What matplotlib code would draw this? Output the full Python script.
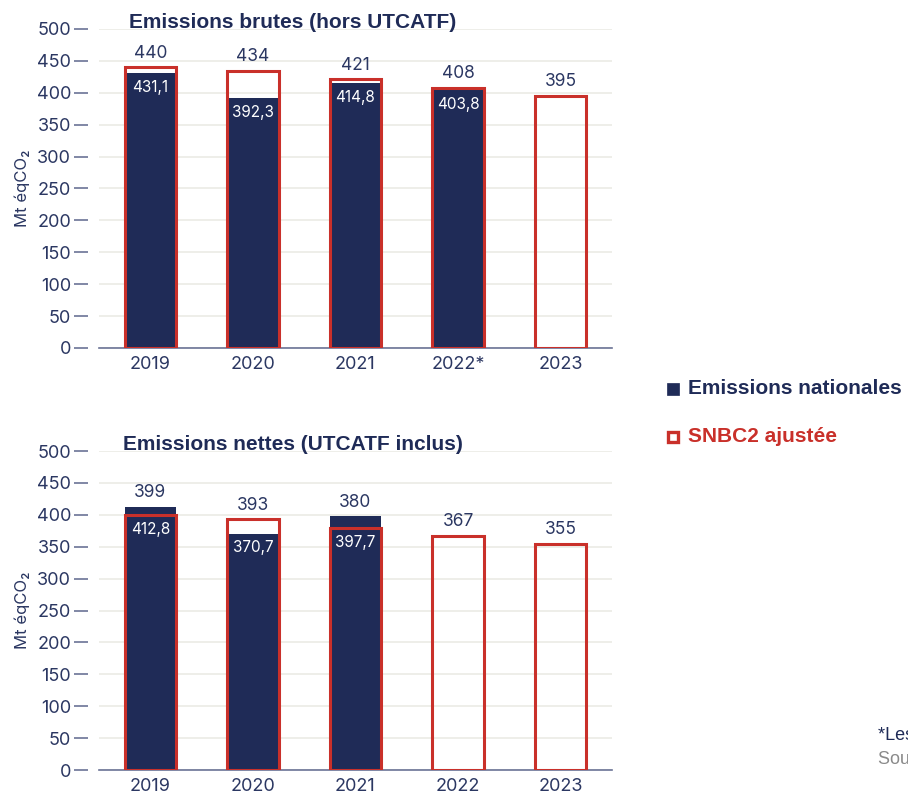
import matplotlib.pyplot as plt
import numpy as np

# Données (Mt éqCO2)
annees_brutes = ['2019', '2020', '2021', '2022*', '2023']
nationales_brutes = [431.1, 392.3, 414.8, 403.8, None]
snbc_brutes = [440, 434, 421, 408, 395]

annees_nettes = ['2019', '2020', '2021', '2022', '2023']
nationales_nettes = [412.8, 370.7, 397.7, None, None]
snbc_nettes = [399, 393, 380, 367, 355]

NAVY = '#1f2b57'
RED = '#c9302a'
TEXTE = '#2b3762'
GRILLE = '#ebebe5'

plt.rcParams['font.family'] = ['Inter', 'DejaVu Sans']


def fmt(v):
    return f"{v:.1f}".replace('.', ',')


def tracer(ax, annees, nationales, snbc, titre):
    x = np.arange(len(annees))
    largeur = 0.5
    for i, v in enumerate(nationales):
        if v is not None:
            ax.bar(x[i], v, width=largeur, color=NAVY, edgecolor='none', zorder=2)
    ax.bar(x, snbc, width=largeur, facecolor='none', edgecolor=RED,
           linewidth=2.2, zorder=3)

    for i, s in enumerate(snbc):
        v = nationales[i]
        haut = s if v is None else max(s, v)
        ax.annotate(str(s), (x[i], haut), xytext=(0, 4), textcoords='offset points',
                    ha='center', va='bottom', fontsize=12.5, color=TEXTE)
        if v is not None:
            bas = min(s, v)
            ax.annotate(fmt(v), (x[i], bas), xytext=(0, -5), textcoords='offset points',
                        ha='center', va='top', fontsize=11, color='white', zorder=4)

    ax.set_xlim(-0.5, 4.5)
    ax.set_ylim(0, 500)
    ax.set_yticks(range(0, 501, 50))
    ax.set_xticks(x)
    ax.set_xticklabels(annees)
    ax.yaxis.grid(True, color=GRILLE, linewidth=1.2, zorder=0)
    ax.set_axisbelow(True)
    for c in ['top', 'right', 'left']:
        ax.spines[c].set_visible(False)
    ax.spines['left'].set_position(('outward', 8))
    ax.spines['bottom'].set_color('#6b7396')
    ax.spines['bottom'].set_linewidth(1.2)
    ax.spines['bottom'].set_zorder(1)
    ax.tick_params(axis='y', length=10, width=1.2, color='#6b7396', pad=2,
                   labelsize=13, labelcolor=TEXTE)
    ax.tick_params(axis='x', length=0, pad=6, labelsize=13, labelcolor=TEXTE)
    ax.set_ylabel('Mt éqCO₂', fontsize=12, color=TEXTE, labelpad=5)
    ax.set_title(titre, fontsize=15, fontweight='bold', color=NAVY,
                 family=['Liberation Sans', 'DejaVu Sans'], x=0.378, y=1.0, pad=1)


fig = plt.figure(figsize=(9.08, 7.95), dpi=100)
ax1 = fig.add_axes([0.109, 0.5623, 0.565, 0.4013])
ax2 = fig.add_axes([0.109, 0.0314, 0.565, 0.4013])

tracer(ax1, annees_brutes, nationales_brutes, snbc_brutes, 'Emissions brutes (hors UTCATF)')
tracer(ax2, annees_nettes, nationales_nettes, snbc_nettes, 'Emissions nettes (UTCATF inclus)')

# Légende
police_leg = ['Liberation Sans', 'DejaVu Sans']
fig.patches.append(plt.Rectangle((667 / 908, 1 - 395 / 795), 12 / 908, 12 / 795,
                                 transform=fig.transFigure, facecolor=NAVY,
                                 edgecolor=NAVY, linewidth=0.5))
fig.text(688 / 908, 1 - 389 / 795, 'Emissions nationales', fontsize=15, fontweight='bold',
         color=NAVY, va='center', family=police_leg)
fig.patches.append(plt.Rectangle((668 / 908, 1 - 442 / 795), 10 / 908, 10 / 795,
                                 transform=fig.transFigure, facecolor='white',
                                 edgecolor=RED, linewidth=2.4))
fig.text(688 / 908, 1 - 437 / 795, 'SNBC2 ajustée', fontsize=15, fontweight='bold',
         color=RED, va='center', family=police_leg)

# Notes (coupées au bord)
fig.text(878 / 908, 1 - 735 / 795, '*Les données 2022 sont provisoires', fontsize=13,
         color=NAVY, va='center', family=police_leg)
fig.text(878 / 908, 1 - 760 / 795, 'Source : Citepa', fontsize=13,
         color='#8a8a8a', va='center', family=police_leg)

fig.savefig('out.png', dpi=100)
